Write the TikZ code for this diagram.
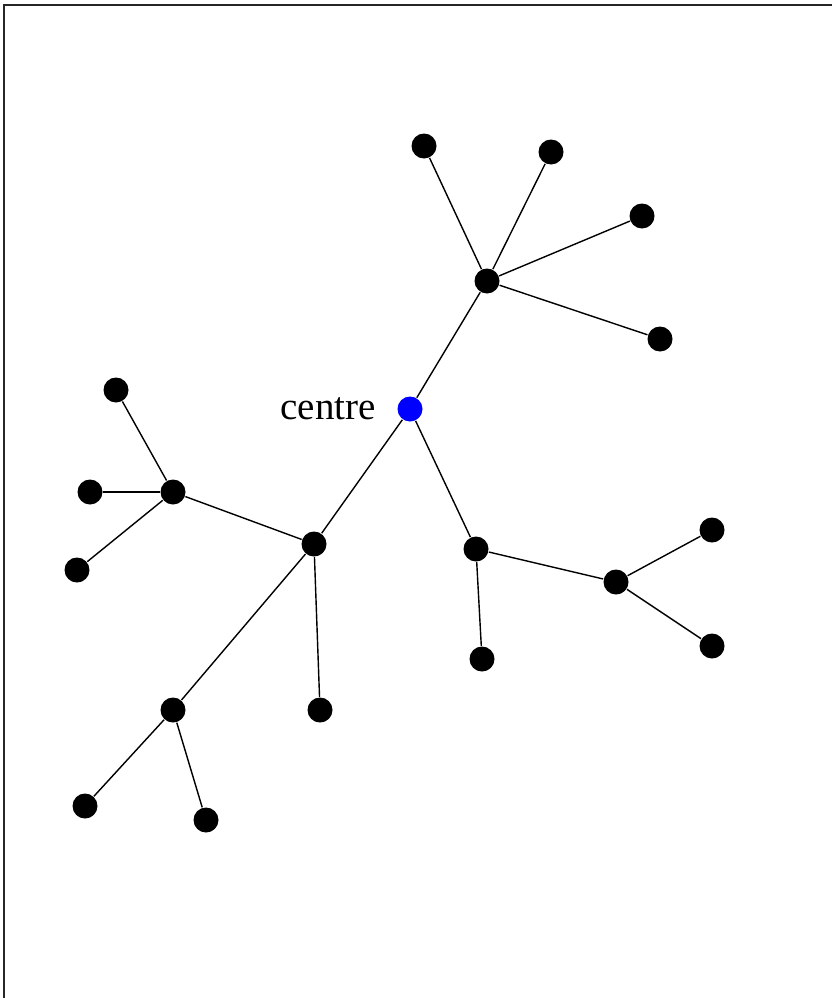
\documentclass[tikz,border=0pt]{standalone}
\usepackage{fontspec}
\setmainfont{Liberation Serif}
\usepackage{tikz}
\usetikzlibrary{positioning}
\definecolor{centreblue}{HTML}{0000FF}

\begin{document}
\begin{tikzpicture}[x=1pt, y=-1pt, line width=1.4pt,
  dot/.style={circle, fill=black, inner sep=0pt, minimum size=25pt},
  hub/.style={circle, fill=centreblue, inner sep=0pt, minimum size=25pt}]
  \useasboundingbox (0,0) rectangle (831,998);
  \draw[line width=2pt, black!85] (4,1010) -- (4,5) -- (840,5);
  % centre and its branches
  \node[hub] (c) at (410,409) {};
  \node[font=\fontsize{39}{46}\selectfont, left=17pt of c, anchor=east] (lbl) {centre};
  \node[dot] (a) at (487,281) {};
  \node[dot] (b) at (314,544) {};
  \node[dot] (d) at (476,549) {};
  % upper branch
  \node[dot] (a1) at (424,146) {};
  \node[dot] (a2) at (551,152) {};
  \node[dot] (a3) at (642,216) {};
  \node[dot] (a4) at (660,339) {};
  % left branch
  \node[dot] (b1) at (173,492) {};
  \node[dot] (b2) at (173,710) {};
  \node[dot] (b3) at (320,710) {};
  \node[dot] (b11) at (116,390) {};
  \node[dot] (b12) at (90,492) {};
  \node[dot] (b13) at (77,570) {};
  \node[dot] (b21) at (85,806) {};
  \node[dot] (b22) at (206,820) {};
  % right branch
  \node[dot] (d1) at (482,659) {};
  \node[dot] (d2) at (616,582) {};
  \node[dot] (d21) at (712,530) {};
  \node[dot] (d22) at (712,646) {};
  \draw (c) -- (a);
  \draw (c) -- (b);
  \draw (c) -- (d);
  \foreach \n in {a1,a2,a3,a4} \draw (a) -- (\n);
  \foreach \n in {b1,b2,b3} \draw (b) -- (\n);
  \foreach \n in {b11,b12,b13} \draw (b1) -- (\n);
  \foreach \n in {b21,b22} \draw (b2) -- (\n);
  \foreach \n in {d1,d2} \draw (d) -- (\n);
  \foreach \n in {d21,d22} \draw (d2) -- (\n);
\end{tikzpicture}
\end{document}
